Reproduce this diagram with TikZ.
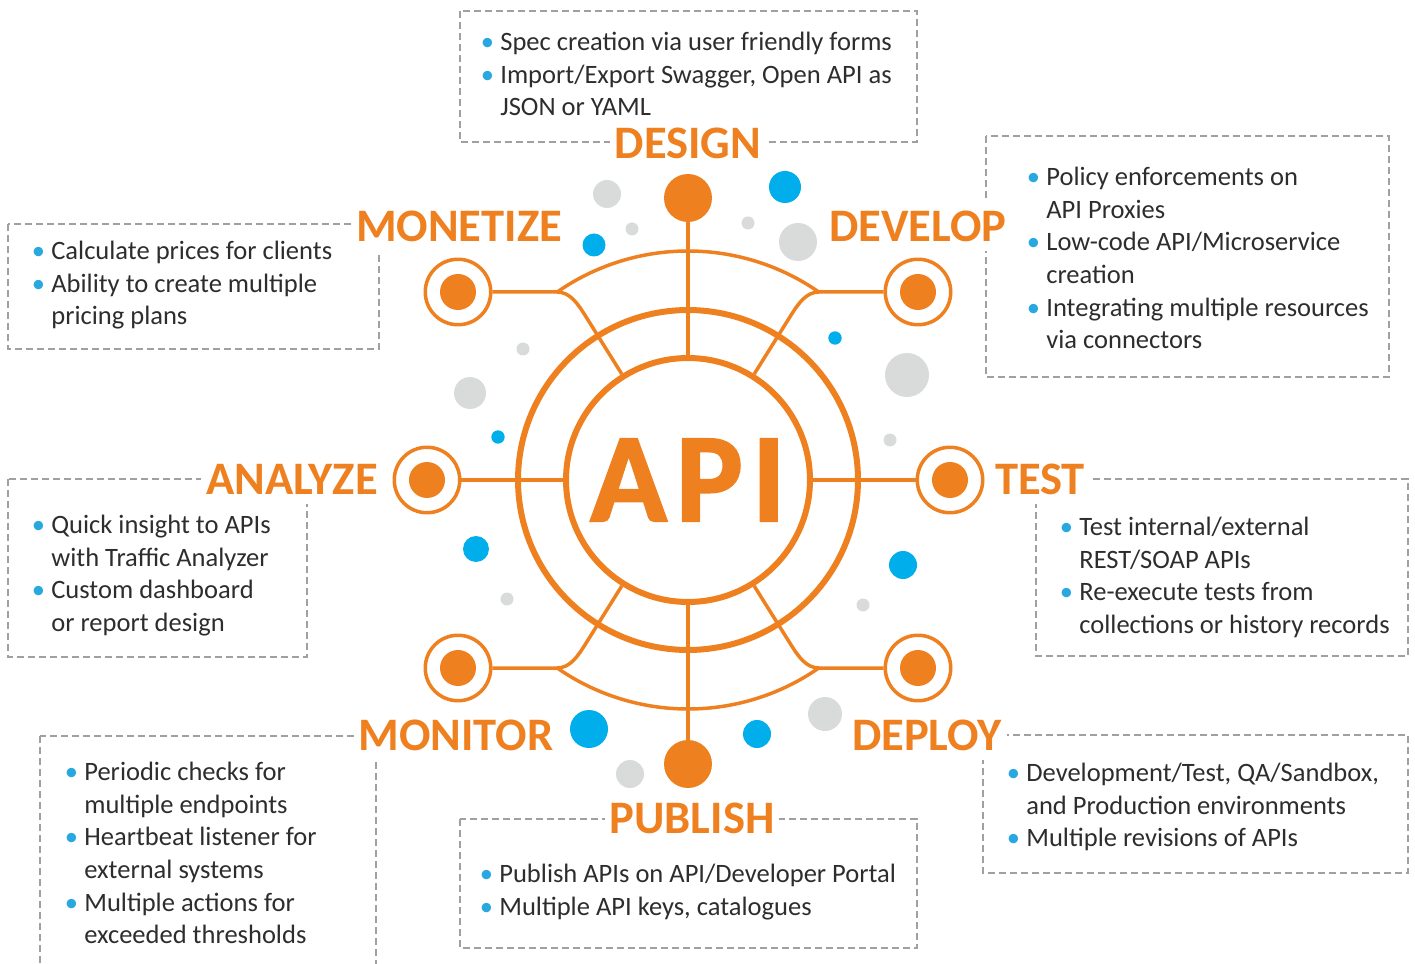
\documentclass[tikz,border=0pt]{standalone}
\usepackage{fontspec}
\setmainfont{Carlito}
\usepackage{tikz}

\definecolor{apiorange}{RGB}{238,128,32}
\definecolor{dotblue}{RGB}{0,174,236}
\definecolor{dotgray}{RGB}{217,218,218}
\definecolor{textgray}{RGB}{45,45,45}
\definecolor{dashgray}{RGB}{160,160,160}
\definecolor{bulletblue}{RGB}{41,168,224}
\newcommand{\bul}{\strut\llap{\textcolor{bulletblue}{•}\hspace{3.5pt}}}
\newfontfamily\apifont[FakeBold=1.6, LetterSpace=7]{Carlito Bold}

\begin{document}
\begin{tikzpicture}[x = 0.02cm, y = 0.02cm,
                      wire/.style = {draw = apiorange, line width = 0.07cm},
                      rim/.style = {circle, draw = apiorange, line width = 0.12cm, inner sep = 0pt},
                      ring/.style = {circle, draw = apiorange, fill = white, line width = 0.07cm,
                                     minimum size = 1.31cm, inner sep = 0pt,
                                     path picture = {\fill[apiorange] (path picture bounding box.center) circle (0.36cm);}},
                      bigdot/.style = {circle, fill = apiorange, minimum size = 0.96cm, inner sep = 0pt},
                      panel/.style = {draw = dashgray, line width = 0.024cm, dash pattern = on 0.14cm off 0.08cm},
                      head/.style = {fill = white, text = apiorange, inner xsep = 0.1cm, inner ysep = 0.2cm,
                                     font = \fontsize{26.5}{30}\selectfont\bfseries},
                      txt/.style = {anchor = north west, align = left, inner sep = 0pt, yshift = 13pt,
                                    text = textgray, font = \fontsize{15.1}{18.6}\selectfont}]
    \useasboundingbox (-688, -483) rectangle (727, 480);

    % background dots
    \fill[dotgray] (-81, 286) circle (14);
    \fill[dotgray] (-56, 251) circle (6.5);
    \fill[dotgray] (60, 257) circle (6.5);
    \fill[dotgray] (110, 238) circle (19);
    \fill[dotgray] (-165, 131) circle (6.5);
    \fill[dotgray] (-218, 87) circle (16);
    \fill[dotgray] (219, 105) circle (22);
    \fill[dotgray] (202, 40) circle (6.5);
    \fill[dotgray] (-181, -119) circle (6.5);
    \fill[dotgray] (175, -125) circle (6.5);
    \fill[dotgray] (137, -234) circle (17);
    \fill[dotgray] (-58, -294) circle (14);
    \fill[dotblue] (97, 293) circle (16);
    \fill[dotblue] (-94, 235) circle (11.5);
    \fill[dotblue] (147, 142) circle (6.7);
    \fill[dotblue] (-190, 43) circle (6.7);
    \fill[dotblue] (-212, -69) circle (13);
    \fill[dotblue] (215, -85) circle (14);
    \fill[dotblue] (-99, -249) circle (19);
    \fill[dotblue] (69, -254) circle (14);

    % dashed panels
    \draw[panel] (-228, 469) rectangle (229, 338);
    \draw[panel] (-680, 256) rectangle (-309, 131);
    \draw[panel] (298, 344) rectangle (701, 103);
    \draw[panel] (-680, 1) rectangle (-381, -177);
    \draw[panel] (348, 1) rectangle (720, -176);
    \draw[panel] (-648, -256) rectangle (-312, -495);
    \draw[panel] (-228, -339) rectangle (229, -468);
    \draw[panel] (295, -255) rectangle (720, -393);

    \node [head] (h1) at (0, 337) {DESIGN};
    \node [head] (h2) at (-229, 254) {MONETIZE};
    \node [head] (h3) at (230, 254) {DEVELOP};
    \node [head] (h4) at (-396, 1) {ANALYZE};
    \node [head] (h5) at (352, 1) {TEST};
    \node [head] (h6) at (-232, -255) {MONITOR};
    \node [head] (h7) at (239, -255) {DEPLOY};
    \node [head] (h8) at (4, -338) {PUBLISH};

    \node [txt] (t1) at (-188, 430) {\bul Spec creation via user friendly forms\\
        \bul Import/Export Swagger, Open API as\\ JSON or YAML};
    \node [txt] (t2) at (-637, 221) {\bul Calculate prices for clients\\
        \bul Ability to create multiple\\ pricing plans};
    \node [txt] (t3) at (358, 295) {\bul Policy enforcements on\\ API Proxies\\
        \bul Low-code API/Microservice\\ creation\\
        \bul Integrating multiple resources\\ via connectors};
    \node [txt] (t4) at (-637, -53) {\bul Quick insight to APIs\\ with Traffic Analyzer\\
        \bul Custom dashboard\\ or report design};
    \node [txt] (t5) at (391, -55) {\bul Test internal/external\\ REST/SOAP APIs\\
        \bul Re-execute tests from\\ collections or history records};
    \node [txt] (t6) at (-604, -300) {\bul Periodic checks for\\ multiple endpoints\\
        \bul Heartbeat listener for\\ external systems\\
        \bul Multiple actions for\\ exceeded thresholds};
    \node [txt] (t7) at (-189, -402) {\bul Publish APIs on API/Developer Portal\\
        \bul Multiple API keys, catalogues};
    \node [txt] (t8) at (338, -301) {\bul Development/Test, QA/Sandbox,\\ and Production environments\\
        \bul Multiple revisions of APIs};

    % hub
    \node [rim, minimum size = 4.88cm] (core) at (0, 0){};
    \node [rim, minimum size = 6.8cm] (halo) at (0, 0){};
    \node [text = apiorange, font = \fontsize{72}{72}\apifont] (api) at (0, 0) {API};

    \node [bigdot] (d1) at (0, 282){};
    \node [bigdot] (d2) at (0, -284){};
    \node [ring] (s1) at (-230, 188){};
    \node [ring] (s2) at (230, 188){};
    \node [ring] (s3) at (-261, 0){};
    \node [ring] (s4) at (262, 0){};
    \node [ring] (s5) at (-230, -188){};
    \node [ring] (s6) at (230, -188){};

    \draw[wire] (125:229) arc (125:55:229);
    \draw[wire] (235:229) arc (235:305:229);
    \draw[wire] (d1) -- (core.north);
    \draw[wire] (d2) -- (core.south);
    \draw[wire] (s3) -- (core.west);
    \draw[wire] (s4) -- (core.east);
    \draw[wire] (s1) -- (-131, 188) .. controls (-118, 188) and (122:208) .. (122:192) -- (core.122);
    \draw[wire] (s2) -- (131, 188) .. controls (118, 188) and (58:208) .. (58:192) -- (core.58);
    \draw[wire] (s5) -- (-131, -188) .. controls (-118, -188) and (238:208) .. (238:192) -- (core.238);
    \draw[wire] (s6) -- (131, -188) .. controls (118, -188) and (302:208) .. (302:192) -- (core.302);
\end{tikzpicture}
\end{document}
